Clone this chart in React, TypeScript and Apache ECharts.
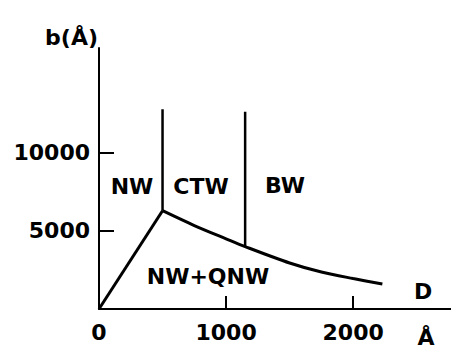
import React, { useEffect, useRef } from "react";
import * as echarts from "echarts";

const lowerBoundary: [number, number][] = [
  [0, 0],
  [500, 6300],
];
const upperCurve: [number, number][] = [
  [500, 6300],
  [750, 5350],
  [1000, 4500],
  [1150, 4000],
  [1500, 2950],
  [1750, 2370],
  [2000, 1950],
  [2230, 1600],
];
const divider1: [number, number][] = [
  [500, 6300],
  [500, 12800],
];
const divider2: [number, number][] = [
  [1150, 4000],
  [1150, 12650],
];
const xTickValues = [1000, 2000];
const xLabelValues = [0, 1000, 2000];
const yTickValues = [5000, 10000];
const regionLabels = ["NW", "CTW", "BW", "NW+QNW"];

const FONT = "DejaVu Sans";

export default function App() {
  const ref = useRef<HTMLDivElement>(null);
  useEffect(() => {
    if (!ref.current) return;
    const chart = echarts.init(ref.current, null, { renderer: "svg" });
    const lineStyle = (w: number) => ({ color: "#000", width: w });
    const mkLine = (data: [number, number][], w: number, smooth: number | boolean = false) => ({
      type: "line",
      data,
      smooth,
      symbol: "none",
      lineStyle: lineStyle(w),
      silent: true,
    });
    const txt = (text: string, x: number, y: number, size: number, align = "center") => ({
      type: "text",
      x,
      y,
      style: {
        text,
        fill: "#000",
        font: `bold ${size}px "${FONT}"`,
        textAlign: align,
        textVerticalAlign: "middle",
      },
    });
    const labelStyle = {
      color: "#000",
      fontFamily: FONT,
      fontWeight: "bold",
      fontSize: 22,
      formatter: (v: number) => String(v),
    };
    chart.setOption({
      animation: false,
      backgroundColor: "#fff",
      grid: { left: 99, right: 0, top: 48, bottom: 42 },
      xAxis: {
        type: "value",
        min: 0,
        max: 2770,
        splitLine: { show: false },
        axisLine: { show: true, lineStyle: { color: "#000", width: 2 } },
        axisTick: {
          show: true,
          inside: true,
          length: 13,
          customValues: xTickValues,
          lineStyle: { color: "#000", width: 2 },
        },
        axisLabel: { ...labelStyle, customValues: xLabelValues, margin: 12 },
      },
      yAxis: {
        type: "value",
        min: 0,
        max: 16730,
        splitLine: { show: false },
        axisLine: { show: true, lineStyle: { color: "#000", width: 2 } },
        axisTick: {
          show: true,
          inside: true,
          length: 15,
          customValues: yTickValues,
          lineStyle: { color: "#000", width: 2 },
        },
        axisLabel: { ...labelStyle, customValues: yTickValues, margin: 9 },
      },
      series: [
        mkLine(lowerBoundary, 3),
        mkLine(upperCurve, 3, 0.3),
        mkLine(divider1, 2.5),
        mkLine(divider2, 2.5),
      ],
      graphic: [
        txt("b(Å)", 98, 37, 22, "right"),
        txt(regionLabels[0], 132, 186, 22),
        txt(regionLabels[1], 201, 186, 22),
        txt(regionLabels[2], 285, 185, 22),
        txt(regionLabels[3], 208, 276, 22),
        txt("D", 423, 291, 22),
        txt("Å", 426, 337, 22),
      ],
    });
    return () => chart.dispose();
  }, []);
  return (
    <div
      ref={ref}
      style={{ position: "absolute", left: 0, top: 0, width: 451, height: 351 }}
    />
  );
}
